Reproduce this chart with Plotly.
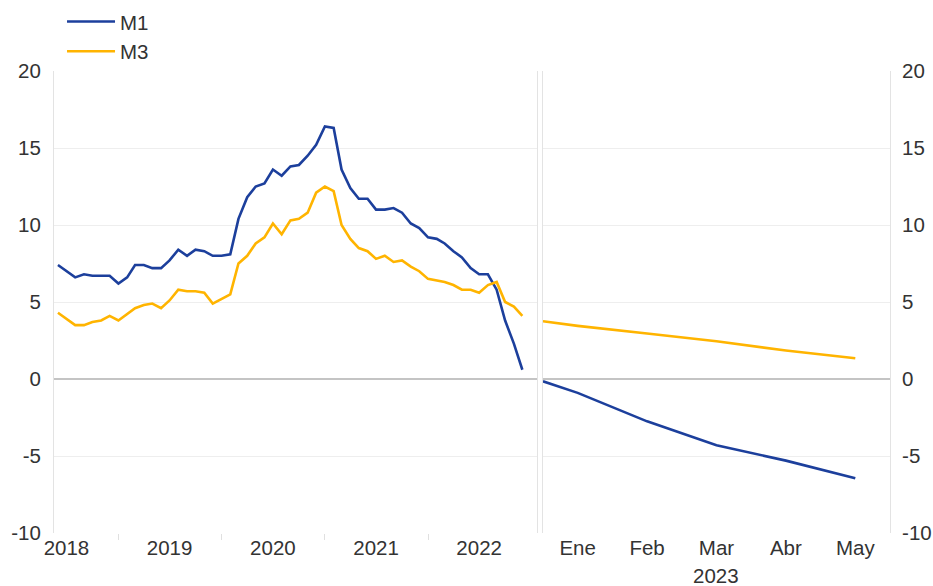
import plotly.graph_objects as go
import pandas as pd

# ---- Data ----
months_left = pd.date_range("2018-06-01", "2022-12-01", freq="MS").strftime("%Y-%m-%d").tolist()

m1_left = [7.4, 7.0, 6.6, 6.8, 6.7, 6.7, 6.7,
           6.2, 6.6, 7.4, 7.4, 7.2, 7.2, 7.7, 8.4, 8.0, 8.4, 8.3, 8.0,
           8.0, 8.1, 10.4, 11.8, 12.5, 12.7, 13.6, 13.2, 13.8, 13.9, 14.5, 15.2,
           16.4, 16.3, 13.6, 12.4, 11.7, 11.7, 11.0, 11.0, 11.1, 10.8, 10.1, 9.8,
           9.2, 9.1, 8.8, 8.3, 7.9, 7.2, 6.8, 6.8, 5.8, 3.8, 2.3, 0.6]

m3_left = [4.3, 3.9, 3.5, 3.5, 3.7, 3.8, 4.1,
           3.8, 4.2, 4.6, 4.8, 4.9, 4.6, 5.1, 5.8, 5.7, 5.7, 5.6, 4.9,
           5.2, 5.5, 7.5, 8.0, 8.8, 9.2, 10.1, 9.4, 10.3, 10.4, 10.8, 12.1,
           12.5, 12.2, 10.0, 9.1, 8.5, 8.3, 7.8, 8.0, 7.6, 7.7, 7.3, 7.0,
           6.5, 6.4, 6.3, 6.1, 5.8, 5.8, 5.6, 6.1, 6.3, 5.0, 4.7, 4.1]

year_labels = ["2018", "2019", "2020", "2021", "2022"]
year_label_pos = ["2018-07-01", "2019-07-01", "2020-07-01", "2021-07-01", "2022-07-01"]
year_ticks = ["2019-01-01", "2020-01-01", "2021-01-01", "2022-01-01"]

# right panel (2023), position index; first point is the panel's starting edge
pos_right = [-0.5, 0, 1, 2, 3, 4]
month_labels = ["Ene", "Feb", "Mar", "Abr", "May"]
m1_right = [-0.15, -0.9, -2.75, -4.3, -5.3, -6.45]
m3_right = [3.75, 3.45, 2.95, 2.45, 1.85, 1.35]

y_ticks = [-10, -5, 0, 5, 10, 15, 20]
y_ticktext = ["-10", "-5", "0", "5", "10", "15", "20"]

BLUE = "#1c3f9c"
YELLOW = "#ffb400"
FONT = "Liberation Sans, Arial, sans-serif"
GRID = "#eeeeee"
TXT = "#333333"
FS = 20.5

fig = go.Figure()
fig.add_trace(go.Scatter(x=months_left, y=m1_left, mode="lines", name="M1",
                         line=dict(color=BLUE, width=2.6), xaxis="x", yaxis="y"))
fig.add_trace(go.Scatter(x=months_left, y=m3_left, mode="lines", name="M3",
                         line=dict(color=YELLOW, width=2.6), xaxis="x", yaxis="y"))
fig.add_trace(go.Scatter(x=pos_right, y=m1_right, mode="lines", name="M1",
                         line=dict(color=BLUE, width=2.6), xaxis="x2", yaxis="y2",
                         showlegend=False))
fig.add_trace(go.Scatter(x=pos_right, y=m3_right, mode="lines", name="M3",
                         line=dict(color=YELLOW, width=2.6), xaxis="x2", yaxis="y2",
                         showlegend=False))

yax = dict(range=[-10, 20], tickvals=y_ticks, ticktext=y_ticktext,
           showgrid=True, gridcolor=GRID, gridwidth=1,
           zeroline=True, zerolinecolor="#c4c4c4", zerolinewidth=2,
           showline=True, linecolor="#e3e3e3", linewidth=1, mirror=True,
           ticks="", tickfont=dict(family=FONT, size=FS, color=TXT),
           fixedrange=True)

fig.update_layout(
    width=933, height=586,
    margin=dict(l=54, r=43, t=71, b=53, autoexpand=False),
    paper_bgcolor="white", plot_bgcolor="white",
    font=dict(family=FONT, color=TXT),
    showlegend=True,
    legend=dict(x=0.0096, y=1.150, xanchor="left", yanchor="top",
                font=dict(family=FONT, size=FS, color=TXT),
                bgcolor="rgba(0,0,0,0)", itemwidth=48, tracegroupgap=0),
    xaxis=dict(domain=[0, 0.5778], type="date",
               range=["2018-05-18", "2023-01-22"],
               tickvals=year_label_pos, ticktext=year_labels,
               ticks="", showgrid=False, zeroline=False, showline=False,
               tickfont=dict(family=FONT, size=FS, color=TXT),
               minor=dict(tickvals=year_ticks, ticks="outside", ticklen=6,
                          tickcolor="#e0e0e0", showgrid=False),
               anchor="y"),
    yaxis=dict(**yax, anchor="x", side="left", ticklabelstandoff=8),
    xaxis2=dict(domain=[0.5849, 1], range=[-0.5, 4.5],
                tickvals=[0, 1, 2, 3, 4], ticktext=month_labels,
                ticks="", showgrid=False, zeroline=False, showline=False,
                tickfont=dict(family=FONT, size=FS, color=TXT),
                anchor="y2"),
    yaxis2=dict(**yax, anchor="x2", side="right", ticklabelstandoff=7),
    annotations=[dict(text="2023", x=2, xref="x2", y=-0.093, yref="paper",
                      showarrow=False, xanchor="center", yanchor="middle",
                      font=dict(family=FONT, size=FS, color=TXT))],
)

fig.write_html("out.html",
               config={"displayModeBar": False},
               post_script="document.body.style.margin='0';"
                           "document.body.style.overflow='hidden';")
